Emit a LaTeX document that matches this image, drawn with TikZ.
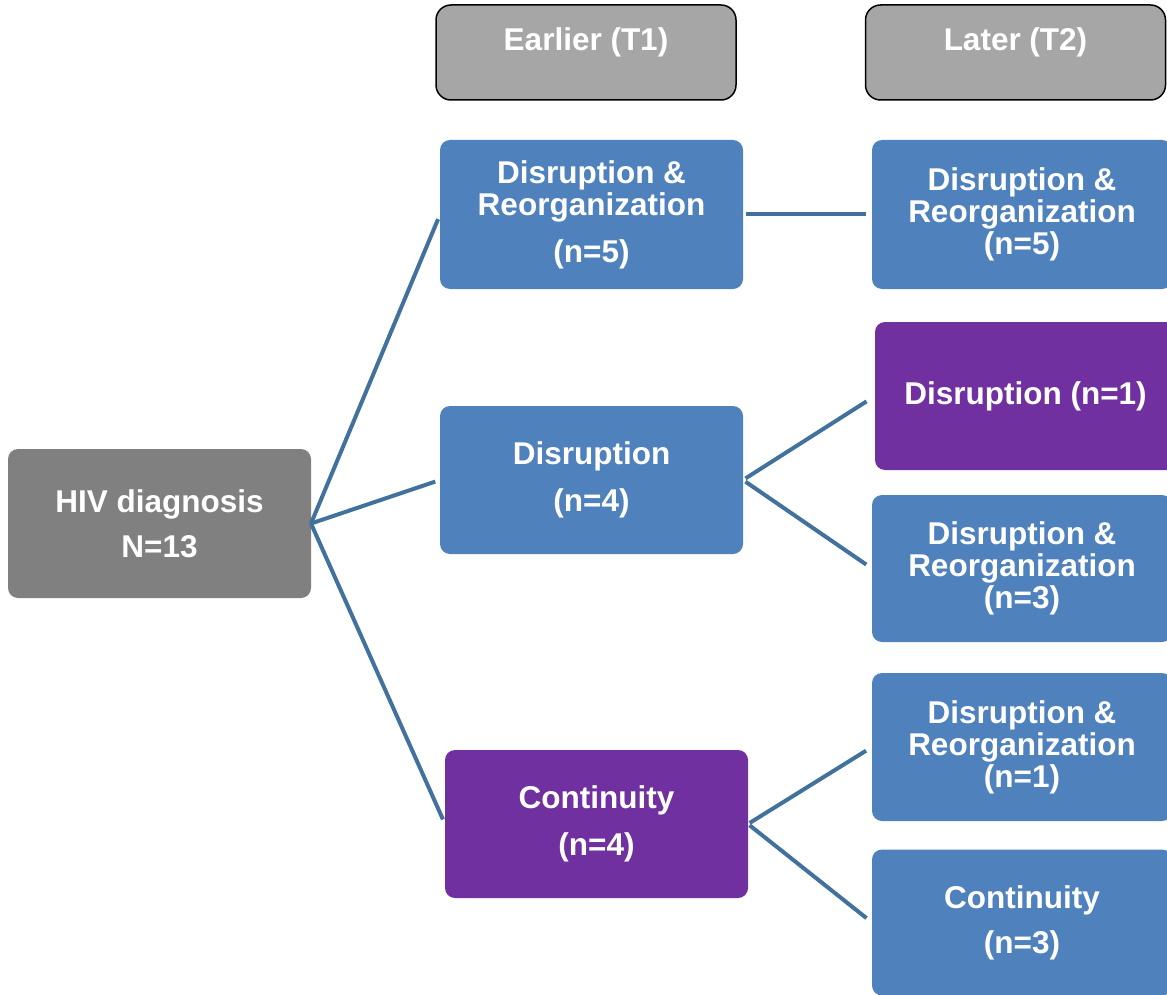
\documentclass[tikz,border=0pt]{standalone}
\usepackage{fontspec}
\setmainfont{Liberation Sans}
\definecolor{boxblue}{HTML}{4F81BD}
\definecolor{boxpurple}{HTML}{7030A0}
\definecolor{boxgray}{HTML}{808080}
\definecolor{hdrgray}{HTML}{A6A6A6}
\definecolor{linkblue}{HTML}{41719C}
\begin{document}
\begin{tikzpicture}[x=1pt,y=-1pt,
  every node/.style={inner sep=0pt, outer sep=0pt, text=white,
    font=\bfseries\fontsize{31.5}{32}\selectfont, align=center},
  card/.style={rounded corners=10pt, minimum width=#1, minimum height=148pt},
  bluecard/.style={card=#1, fill=boxblue},
  purplecard/.style={card=#1, fill=boxpurple},
  header/.style={rounded corners=15pt, fill=hdrgray, draw=black, line width=1.5pt,
    minimum width=300pt, minimum height=95pt, text height=46pt, text depth=49pt},
  link/.style={draw=linkblue, line width=4pt}]
\useasboundingbox (0,0) rectangle (1167,995);

% column headers
\node[header] (t1) at (586,52.5) {Earlier (T1)};
\node[header] (t2) at (1015.5,52.5) {Later (T2)};

% root
\node[card=303pt, fill=boxgray, minimum height=149pt] (hiv) at (159.5,523.5)
  {HIV diagnosis\\[13pt]N=13};

% earlier (T1) groups
\node[bluecard=303pt, minimum height=149pt] (a1) at (591.5,214.5)
  {Disruption \&\\Reorganization\\[15pt](n=5)};
\node[bluecard=303pt] (a2) at (591.5,480)
  {Disruption\\[15pt](n=4)};
\node[purplecard=303pt] (a3) at (596.5,824)
  {Continuity\\[15pt](n=4)};

% later (T2) groups
\node[bluecard=300pt, minimum height=149pt] (b1) at (1022,214.5)
  {Disruption \&\\Reorganization\\(n=5)};
\node[purplecard=301pt] (b2) at (1025.5,396)
  {Disruption (n=1)};
\node[bluecard=300pt, minimum height=147pt] (b3) at (1022,568.5)
  {Disruption \&\\Reorganization\\(n=3)};
\node[bluecard=300pt] (b4) at (1022,747)
  {Disruption \&\\Reorganization\\(n=1)};
\node[bluecard=300pt, minimum height=146pt] (b5) at (1022,922.5)
  {Continuity\\[13pt](n=3)};

% connectors
\draw[link, shorten >=5pt] (hiv.east) -- (a1.west);
\draw[link, shorten >=5pt] (hiv.east) -- (a2.west);
\draw[link, shorten >=5pt] (hiv.east) -- (a3.west);
\draw[link, shorten <=3pt, shorten >=6pt] (a1.east) -- (b1.west);
\draw[link, shorten <=3pt, shorten >=10pt] (a2.east) -- (b2.west);
\draw[link, shorten <=3pt, shorten >=7pt] (a2.east) -- (b3.west);
\draw[link, shorten <=2pt, shorten >=7pt] (a3.east) -- (b4.west);
\draw[link, shorten <=2pt, shorten >=7pt] (a3.east) -- (b5.west);
\end{tikzpicture}
\end{document}
